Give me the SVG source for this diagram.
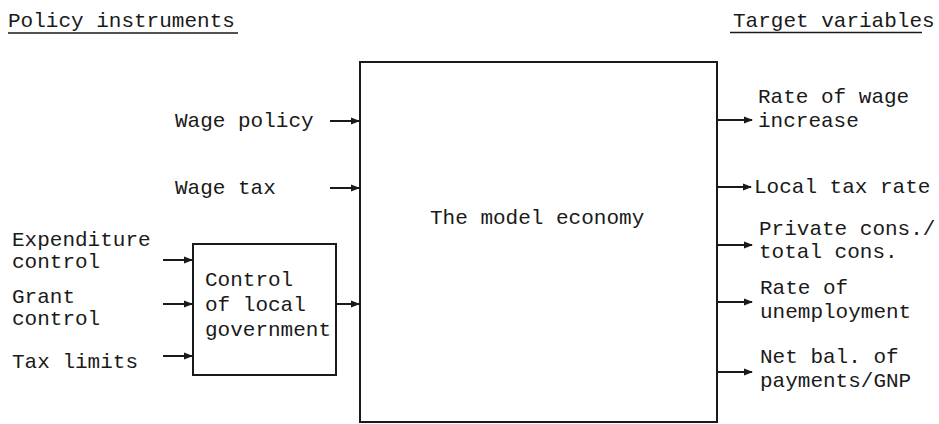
<svg xmlns="http://www.w3.org/2000/svg" width="939" height="424" viewBox="0 0 939 424">
<style>
text{font-family:"Liberation Mono","DejaVu Sans Mono",monospace;font-size:21px;fill:#1a1a1a}
.box{fill:none;stroke:#1a1a1a;stroke-width:2}
.ln{stroke:#1a1a1a;stroke-width:2;fill:none}
.ul{stroke:#1a1a1a;stroke-width:1.6}
</style>
<defs>
<marker id="ah" markerWidth="9" markerHeight="8" refX="8" refY="4" orient="auto" markerUnits="userSpaceOnUse">
<path d="M0,0.5 L9,4 L0,7.5 Z" fill="#1a1a1a"/>
</marker>
</defs>
<g id="headings">
<text x="8" y="27">Policy instruments</text>
<line class="ul" x1="8" y1="33" x2="238" y2="33"/>
<text x="733" y="27">Target variables</text>
<line class="ul" x1="730" y1="32.5" x2="922" y2="32.5"/>
</g>
<g id="economy">
<rect class="box" x="360" y="62" width="357" height="360"/>
<text x="430" y="224">The model economy</text>
</g>
<g id="localgov">
<rect class="box" x="193" y="244" width="143" height="131"/>
<text x="205" y="286">Control</text>
<text x="205" y="311">of local</text>
<text x="205" y="336">government</text>
</g>
<g id="in-wagepolicy"><text x="175" y="127">Wage policy</text></g>
<g id="in-wagetax"><text x="175" y="194">Wage tax</text></g>
<g id="in-expenditure"><text x="12" y="246">Expenditure</text><text x="12" y="268">control</text></g>
<g id="in-grant"><text x="12" y="303">Grant</text><text x="12" y="325">control</text></g>
<g id="in-taxlimits"><text x="12" y="368">Tax limits</text></g>
<g id="out-wage"><text x="758" y="103">Rate of wage</text><text x="758" y="127">increase</text></g>
<g id="out-localtax"><text x="754" y="193">Local tax rate</text></g>
<g id="out-cons"><text x="759" y="235">Private cons./</text><text x="759" y="258">total cons.</text></g>
<g id="out-unemp"><text x="760" y="294">Rate of</text><text x="760" y="318">unemployment</text></g>
<g id="out-bal"><text x="760" y="363">Net bal. of</text><text x="760" y="387">payments/GNP</text></g>
<g id="connectors">
<line class="ln" x1="330" y1="121" x2="359" y2="121" marker-end="url(#ah)"/>
<line class="ln" x1="330" y1="188" x2="359" y2="188" marker-end="url(#ah)"/>
<line class="ln" x1="163" y1="260" x2="192" y2="260" marker-end="url(#ah)"/>
<line class="ln" x1="163" y1="304" x2="192" y2="304" marker-end="url(#ah)"/>
<line class="ln" x1="163" y1="356" x2="192" y2="356" marker-end="url(#ah)"/>
<line class="ln" x1="337" y1="304" x2="359" y2="304" marker-end="url(#ah)"/>
<line class="ln" x1="718" y1="120" x2="752" y2="120" marker-end="url(#ah)"/>
<line class="ln" x1="718" y1="187" x2="751" y2="187" marker-end="url(#ah)"/>
<line class="ln" x1="718" y1="245" x2="752" y2="245" marker-end="url(#ah)"/>
<line class="ln" x1="718" y1="302" x2="752" y2="302" marker-end="url(#ah)"/>
<line class="ln" x1="718" y1="372" x2="752" y2="372" marker-end="url(#ah)"/>
</g>
</svg>
